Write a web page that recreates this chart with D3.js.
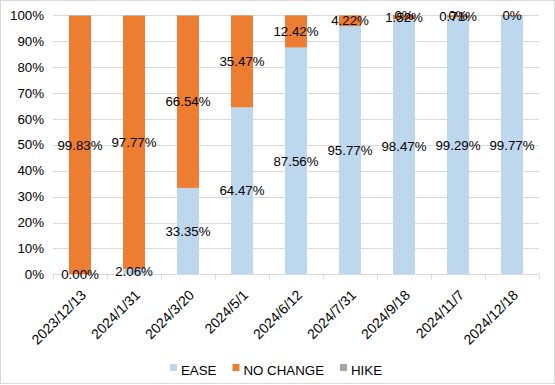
<!DOCTYPE html>
<html>
<head>
<meta charset="utf-8">
<script src="https://cdn.jsdelivr.net/npm/d3@7"></script>
<style>
  body { margin: 0; background: #fff; }
  svg { display: block; font-family: "Liberation Sans", Arial, sans-serif; }
</style>
</head>
<body>
<svg id="chart" width="555" height="385"></svg>
<script>
// meeting dates
const dates = ["2023/12/13", "2024/1/31", "2024/3/20", "2024/5/1", "2024/6/12",
  "2024/7/31", "2024/9/18", "2024/11/7", "2024/12/18"];

// probabilities in %
const ease = [0, 2.06, 33.35, 64.47, 87.56, 95.77, 98.47, 99.29, 99.77];
const noChange = [99.83, 97.77, 66.54, 35.47, 12.42, 4.22, 1.52, 0.71, 0.23];
const hike = [0.17, 0.17, 0.11, 0.06, 0.02, 0.01, 0.01, 0, 0];

// data labels as shown (null = not shown)
const easeLabels = ["0.00%", "2.06%", "33.35%", "64.47%", "87.56%", "95.77%", "98.47%", "99.29%", "99.77%"];
const noChangeLabels = ["99.83%", "97.77%", "66.54%", "35.47%", "12.42%", "4.22%", "1.52%", "0.71%", null];
const hikeLabels = [null, null, null, null, null, null, "0%", "0%", "0%"];

const yTicks = [0, 10, 20, 30, 40, 50, 60, 70, 80, 90, 100];

const seriesNames = ["EASE", "NO CHANGE", "HIKE"];
const colors = ["#BDD7EE", "#ED7D31", "#A5A5A5"];

const svg = d3.select("#chart");
const W = 555, H = 385;
const margin = { left: 53, right: 16, top: 15.3, bottom: 110.7 };
const fs = "13.3px";

// outer border
svg.append("rect")
  .attr("x", 0.5).attr("y", 0.5)
  .attr("width", W - 1).attr("height", H - 2)
  .attr("fill", "#fff")
  .attr("stroke", "#d9d9d9");

const x = d3.scaleBand()
  .domain(dates)
  .range([margin.left, W - margin.right])
  .paddingInner(0.593)
  .paddingOuter(0.2965);

const y = d3.scaleLinear()
  .domain([0, 100])
  .range([H - margin.bottom, margin.top]);

// gridlines
svg.append("g")
  .selectAll("line")
  .data(yTicks)
  .enter()
  .append("line")
  .attr("x1", margin.left)
  .attr("x2", W - margin.right)
  .attr("y1", (d) => Math.round(y(d)) + 0.5)
  .attr("y2", (d) => Math.round(y(d)) + 0.5)
  .attr("stroke", "#d9d9d9");

// y labels
svg.append("g")
  .selectAll("text")
  .data(yTicks)
  .enter()
  .append("text")
  .attr("x", 44)
  .attr("y", (d) => y(d))
  .attr("dy", "0.35em")
  .attr("text-anchor", "end")
  .style("font-size", fs)
  .attr("fill", "#000")
  .text((d) => d + "%");

// stack
const table = dates.map((d, i) => ({ date: d, EASE: ease[i], "NO CHANGE": noChange[i], HIKE: hike[i] }));
const stacked = d3.stack().keys(seriesNames)(table);

stacked.forEach((layer, k) => {
  svg.append("g")
    .selectAll("rect")
    .data(layer)
    .enter()
    .append("rect")
    .attr("x", (d) => x(d.data.date))
    .attr("width", x.bandwidth())
    .attr("y", (d) => y(d[1]))
    .attr("height", (d) => y(d[0]) - y(d[1]))
    .attr("fill", colors[k]);
});

// x axis line + ticks
const x0 = margin.left, x1 = W - margin.right, yb = Math.round(y(0)) + 0.5;
svg.append("line")
  .attr("x1", x0).attr("x2", x1)
  .attr("y1", yb).attr("y2", yb)
  .attr("stroke", "#d9d9d9");
const step = x.step();
svg.append("g")
  .selectAll("line")
  .data(d3.range(dates.length + 1))
  .enter()
  .append("line")
  .attr("x1", (i) => Math.round(x0 + i * step) + 0.5)
  .attr("x2", (i) => Math.round(x0 + i * step) + 0.5)
  .attr("y1", yb)
  .attr("y2", yb + 5)
  .attr("stroke", "#d9d9d9");

// data labels
const allLabels = [easeLabels, noChangeLabels, hikeLabels];
stacked.forEach((layer, k) => {
  svg.append("g")
    .selectAll("text")
    .data(layer.filter((d, i) => allLabels[k][i] != null))
    .enter()
    .append("text")
    .attr("x", (d) => x(d.data.date) + x.bandwidth() / 2)
    .attr("y", (d) => y((d[0] + d[1]) / 2))
    .attr("dy", "0.35em")
    .attr("text-anchor", "middle")
    .style("font-size", fs)
    .attr("fill", "#000")
    .text((d) => allLabels[k][dates.indexOf(d.data.date)]);
});

// x labels, rotated
svg.append("g")
  .selectAll("text")
  .data(dates)
  .enter()
  .append("text")
  .attr("transform", (d) => "translate(" + (x(d) + x.bandwidth() / 2 + 7) + "," + 296 + ") rotate(-45)")
  .attr("text-anchor", "end")
  .style("font-size", "14px")
  .attr("fill", "#000")
  .text((d) => d);

// legend
const legend = svg.append("g");
let lx = 170;
seriesNames.forEach((name, k) => {
  legend.append("rect")
    .attr("x", lx).attr("y", 364)
    .attr("width", 7).attr("height", 7)
    .attr("fill", colors[k]);
  const t = legend.append("text")
    .attr("x", lx + 11).attr("y", 375)
    .style("font-size", fs)
    .attr("fill", "#000")
    .text(name);
  lx += 11 + t.node().getComputedTextLength() + 16;
});
</script>
</body>
</html>
